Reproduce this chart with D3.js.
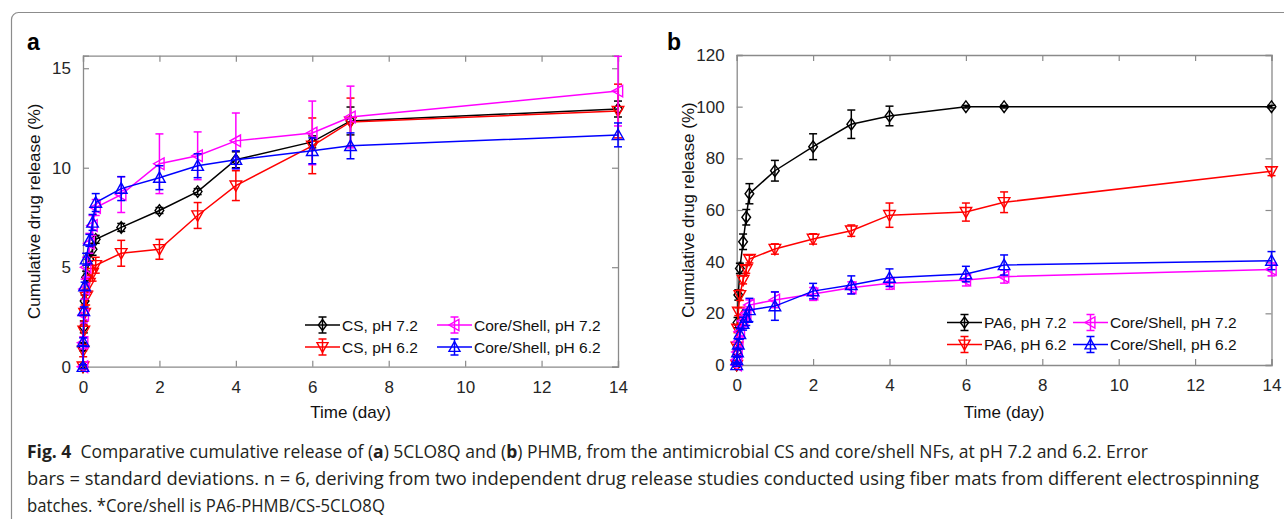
<!DOCTYPE html>
<html>
<head>
<meta charset="utf-8">
<script src="https://cdnjs.cloudflare.com/ajax/libs/d3/7.8.5/d3.min.js"></script>
<style>
  body { margin: 0; background: #fff; }
  svg { display: block; }
</style>
</head>
<body>
<svg id="fig" width="1284" height="519"></svg>
<script>
// sampling times (days)
const days = [0, 0.005, 0.021, 0.042, 0.083, 0.167, 0.25, 0.333, 1, 2, 3, 4, 6, 7, 14];

// panel a: 5CLO8Q release (%)
const csPH72     = [0, 1.0, 2.0, 3.3, 4.5, 5.4, 5.9, 6.4, 7.0, 7.85, 8.8, 10.4, 11.3, 12.35, 12.95];
const csPH72Sd   = [0.05, 0.2, 0.3, 0.3, 0.3, 0.3, 0.3, 0.2, 0.2, 0.15, 0.15, 0.4, 0.3, 0.7, 0.4];
const csPH62     = [0, 0.8, 1.8, 2.7, 3.5, 4.2, 4.7, 5.1, 5.7, 5.9, 7.6, 9.1, 11.1, 12.3, 12.85];
const csPH62Sd   = [0.1, 0.3, 0.3, 0.4, 0.4, 0.4, 0.4, 0.4, 0.65, 0.5, 0.65, 0.75, 1.4, 1.2, 1.35];
const coreAPH72   = [0, 1.2, 2.6, 3.9, 5.0, 6.2, 7.1, 8.0, 8.65, 10.2, 10.6, 11.35, 11.75, 12.55, 13.85];
const coreAPH72Sd = [0.1, 0.3, 0.4, 0.5, 0.5, 0.5, 0.5, 0.4, 0.9, 1.5, 1.2, 1.4, 1.6, 1.55, 1.75];
const coreAPH62   = [0, 1.25, 2.8, 4.05, 5.4, 6.35, 7.25, 8.25, 8.95, 9.5, 10.1, 10.4, 10.85, 11.1, 11.65];
const coreAPH62Sd = [0.1, 0.2, 0.2, 0.2, 0.3, 0.3, 0.4, 0.45, 0.6, 0.6, 0.6, 0.45, 0.65, 0.65, 0.6];

// panel b: PHMB release (%)
const pa6PH72     = [0, 5, 16.4, 27.1, 37.4, 47.7, 57.2, 66.3, 75.2, 84.5, 93.2, 96.4, 100, 100, 100];
const pa6PH72Sd   = [0.5, 1, 2, 2, 2, 3, 3, 3.9, 4, 5, 5.5, 3.8, 0.5, 0.5, 0.5];
const pa6PH62     = [0, 7, 14, 20.6, 27, 32.9, 37, 41, 44.9, 48.8, 52, 58, 59.2, 63, 75];
const pa6PH62Sd   = [0.5, 1, 1.5, 1.5, 2, 1.5, 1.5, 1.5, 2, 2, 2.2, 4.7, 3.5, 4, 1.7];
const coreBPH72   = [0, 2, 5, 9, 13, 17, 20, 23.2, 25.2, 27.5, 29.9, 31.6, 32.9, 34.2, 37];
const coreBPH72Sd = [0.5, 1, 1.5, 2, 2, 2, 2, 2, 3, 2.5, 2.3, 2.3, 2.3, 2.5, 2.5];
const coreBPH62   = [0, 2, 5, 8, 12, 16, 18.3, 21.3, 22.8, 28.6, 31, 33.8, 35.2, 38.7, 40.4];
const coreBPH62Sd = [0.5, 1, 1.5, 2, 2, 2.5, 3, 4.5, 5.5, 3, 3.5, 3.4, 3, 3.9, 3.5];

const xTicks = [0, 2, 4, 6, 8, 10, 12, 14];
const yTicksA = [0, 5, 10, 15];
const yTicksB = [0, 20, 40, 60, 80, 100, 120];

const legendA = ["CS, pH 7.2", "CS, pH 6.2", "Core/Shell, pH 7.2", "Core/Shell, pH 6.2"];
const legendB = ["PA6, pH 7.2", "PA6, pH 6.2", "Core/Shell, pH 7.2", "Core/Shell, pH 6.2"];

const colors = ["#000000", "#ff0000", "#ff00ff", "#0000ff"];
const shapes = ["diamond", "down", "left", "up"];

const svg = d3.select("#fig");
const FONT = "'Liberation Sans', Arial, sans-serif";

// outer frame of the figure
svg.append("rect")
    .attr("x", 11.5).attr("y", 12.5)
    .attr("width", 1290).attr("height", 530)
    .attr("rx", 7)
    .attr("fill", "none")
    .attr("stroke", "#8c8c8c")
    .attr("stroke-width", 1.2);

function markerPath(shape, r)
{
    if (shape == "diamond") return `M0,${-r}L${r*0.75},0L0,${r}L${-r*0.75},0Z`;
    if (shape == "down") return `M${-r},${-r*0.8}L${r},${-r*0.8}L0,${r}Z`;
    if (shape == "up") return `M${-r},${r*0.8}L${r},${r*0.8}L0,${-r}Z`;
    if (shape == "left") return `M${r*0.8},${-r}L${r*0.8},${r}L${-r},0Z`;
}

function drawPanel(p)
{
    const g = svg.append("g");
    const x = d3.scaleLinear().domain([0, 14]).range([p.left, p.right]);
    const y = d3.scaleLinear().domain([0, p.ymax]).range([p.bottom, p.top]);

    // axes (ticks inside, mirrored on top/right like matlab)
    const tl = -6;
    g.append("g").attr("transform", `translate(0,${p.bottom})`)
        .call(d3.axisBottom(x).tickValues(xTicks).tickSize(tl).tickPadding(14).tickFormat(d3.format("d")));
    g.append("g").attr("transform", `translate(0,${p.top})`)
        .call(d3.axisTop(x).tickValues(xTicks).tickSize(tl).tickFormat(""));
    g.append("g").attr("transform", `translate(${p.left},0)`)
        .call(d3.axisLeft(y).tickValues(p.yTicks).tickSize(tl).tickPadding(12).tickFormat(d3.format("d")));
    g.append("g").attr("transform", `translate(${p.right},0)`)
        .call(d3.axisRight(y).tickValues(p.yTicks).tickSize(tl).tickFormat(""));
    g.selectAll(".domain").attr("stroke", "#8a8a8a").attr("stroke-width", 1.3);
    g.selectAll(".tick line").attr("stroke", "#8a8a8a").attr("stroke-width", 1.2);
    g.selectAll(".tick text")
        .attr("font-family", FONT).attr("font-size", 17).attr("fill", "#262626");

    // series
    p.series.forEach(function(s, i) {
        const pts = days.map(function(d, j) { return {x: d, y: s.v[j], e: s.sd[j]}; });
        const sg = g.append("g");
        sg.append("path")
            .datum(pts)
            .attr("fill", "none")
            .attr("stroke", colors[i])
            .attr("stroke-width", 1.5)
            .attr("d", d3.line().x(d => x(d.x)).y(d => y(d.y)));
        const eb = sg.selectAll(".eb").data(pts).enter().append("g");
        eb.append("line")
            .attr("x1", d => x(d.x)).attr("x2", d => x(d.x))
            .attr("y1", d => y(d.y - d.e)).attr("y2", d => y(d.y + d.e));
        eb.append("line")
            .attr("x1", d => x(d.x) - 4).attr("x2", d => x(d.x) + 4)
            .attr("y1", d => y(d.y - d.e)).attr("y2", d => y(d.y - d.e));
        eb.append("line")
            .attr("x1", d => x(d.x) - 4).attr("x2", d => x(d.x) + 4)
            .attr("y1", d => y(d.y + d.e)).attr("y2", d => y(d.y + d.e));
        eb.selectAll("line").attr("stroke", colors[i]).attr("stroke-width", 1.5);
        sg.selectAll(".mk").data(pts).enter().append("path")
            .attr("transform", d => `translate(${x(d.x)},${y(d.y)})`)
            .attr("d", markerPath(shapes[i], 5.8))
            .attr("fill", "none")
            .attr("stroke", colors[i])
            .attr("stroke-width", 1.4);
    });

    // legend (2 columns x 2 rows)
    p.legend.forEach(function(label, i) {
        const col = i < 2 ? 0 : 1;
        const row = i % 2;
        const lx = p.legX[col];
        const ly = p.legY + row * 22;
        const lg = g.append("g");
        lg.append("line").attr("x1", lx).attr("x2", lx + 35).attr("y1", ly).attr("y2", ly)
            .attr("stroke", colors[i]).attr("stroke-width", 1.5);
        lg.append("line").attr("x1", lx + 17.5).attr("x2", lx + 17.5).attr("y1", ly - 8).attr("y2", ly + 8)
            .attr("stroke", colors[i]).attr("stroke-width", 1.5);
        [-8, 8].forEach(function(o) {
            lg.append("line").attr("x1", lx + 13.5).attr("x2", lx + 21.5).attr("y1", ly + o).attr("y2", ly + o)
                .attr("stroke", colors[i]).attr("stroke-width", 1.5);
        });
        lg.append("path").attr("transform", `translate(${lx + 17.5},${ly})`)
            .attr("d", markerPath(shapes[i], 5.5))
            .attr("fill", "none").attr("stroke", colors[i]).attr("stroke-width", 1.4);
        lg.append("text").attr("x", lx + 37).attr("y", ly + 5.5)
            .attr("font-family", FONT).attr("font-size", 15.5).attr("fill", "#111")
            .text(label);
    });

    // axis titles
    g.append("text")
        .attr("x", (p.left + p.right) / 2).attr("y", 418)
        .attr("text-anchor", "middle")
        .attr("font-family", FONT).attr("font-size", 17).attr("fill", "#111")
        .text("Time (day)");
    g.append("text")
        .attr("transform", `translate(${p.left - 43},${(p.top + p.bottom) / 2}) rotate(-90)`)
        .attr("text-anchor", "middle")
        .attr("font-family", FONT).attr("font-size", 17).attr("fill", "#111")
        .text("Cumulative drug release (%)");

    // panel letter
    g.append("text")
        .attr("x", p.letterX).attr("y", 50)
        .attr("font-family", FONT).attr("font-size", 23).attr("font-weight", "bold")
        .text(p.letter);
}

drawPanel({
    left: 83, right: 618, top: 55.7, bottom: 366.7, ymax: 15.63,
    yTicks: yTicksA, legend: legendA, legX: [305, 437], legY: 325,
    letter: "a", letterX: 27,
    series: [
        {v: csPH72, sd: csPH72Sd},
        {v: csPH62, sd: csPH62Sd},
        {v: coreAPH72, sd: coreAPH72Sd},
        {v: coreAPH62, sd: coreAPH62Sd}
    ]
});

drawPanel({
    left: 736.7, right: 1271.5, top: 55, bottom: 365, ymax: 120,
    yTicks: yTicksB, legend: legendB, legX: [947, 1073], legY: 322.5,
    letter: "b", letterX: 667,
    series: [
        {v: pa6PH72, sd: pa6PH72Sd},
        {v: pa6PH62, sd: pa6PH62Sd},
        {v: coreBPH72, sd: coreBPH72Sd},
        {v: coreBPH62, sd: coreBPH62Sd}
    ]
});

// caption: each line is squeezed/stretched horizontally to its width in the figure
const CAP = "'Open Sans', 'Noto Sans', sans-serif";
const captionLines = [
    {y: 458, w: 1121, parts: [["Fig. 4", true], ["\u00a0\u00a0Comparative cumulative release of (", false], ["a", true],
        [") 5CLO8Q and (", false], ["b", true], [") PHMB, from the antimicrobial CS and core/shell NFs, at pH 7.2 and 6.2. Error", false]]},
    {y: 485, w: 1233, parts: [["bars = standard deviations. n = 6, deriving from two independent drug release studies conducted using fiber mats from different electrospinning", false]]},
    {y: 512, w: 358, parts: [["batches. *Core/shell is PA6-PHMB/CS-5CLO8Q", false]]}
];
captionLines.forEach(function(c) {
    const t = svg.append("text")
        .attr("x", 0).attr("y", 0)
        .attr("font-family", CAP).attr("font-size", 18).attr("fill", "#231f20");
    c.parts.forEach(function(pt) {
        t.append("tspan").attr("font-weight", pt[1] ? "bold" : null).text(pt[0]);
    });
    const k = c.w / t.node().getComputedTextLength();
    t.attr("transform", `translate(27,${c.y}) scale(${k},1)`);
});
</script>
</body>
</html>
